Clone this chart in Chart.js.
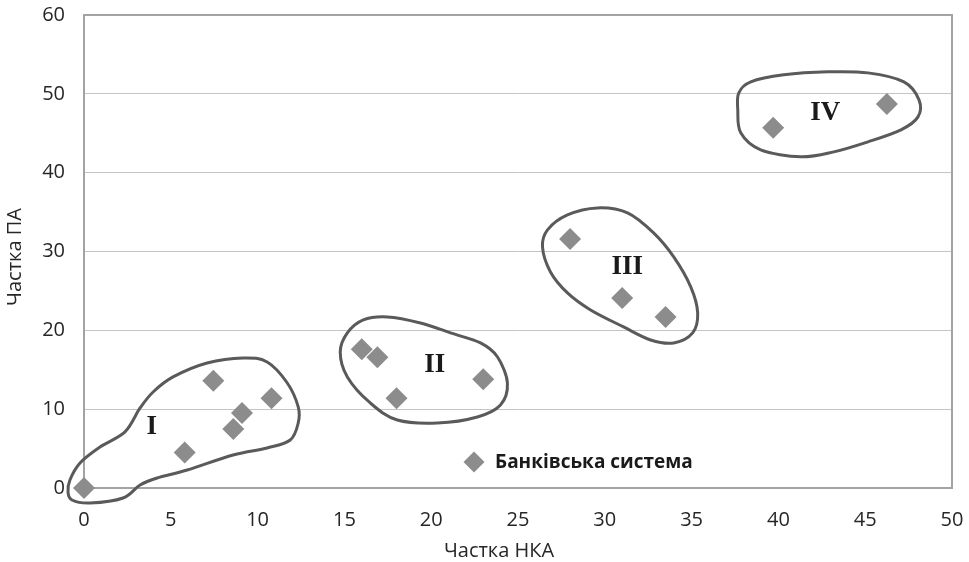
<!DOCTYPE html>
<html>
<head>
<meta charset="utf-8">
<script src="https://cdn.jsdelivr.net/npm/chart.js@4.4.1/dist/chart.umd.min.js"></script>
<style>
  html, body { margin: 0; padding: 0; background: #ffffff; }
  #wrap { width: 969px; height: 562px; position: relative; }
</style>
</head>
<body>
<div id="wrap"><canvas id="chart" width="969" height="562"></canvas></div>
<script>
// Частка НКА (x) та частка ПА (y) для банків
const shareNKA = [0, 5.8, 7.45, 8.6, 9.1, 10.8, 16.0, 16.9, 18.0, 23.0, 28.0, 31.0, 33.5, 39.7, 46.25];
const sharePA  = [0, 4.5, 13.6, 7.5, 9.5, 11.4, 17.6, 16.6, 11.4, 13.8, 31.6, 24.1, 21.7, 45.7, 48.7];

const xTicks = [0, 5, 10, 15, 20, 25, 30, 35, 40, 45, 50];
const yTicks = [0, 10, 20, 30, 40, 50, 60];

const seriesName = 'Банківська система';
const xTitle = 'Частка НКА';
const yTitle = 'Частка ПА';

// Кластери: підписи та їхні центри (у величинах осей)
const clusterNames = ['I', 'II', 'III', 'IV'];
const clusterLabelX = [3.9, 20.2, 31.3, 42.7];
const clusterLabelY = [7.7, 15.6, 28.0, 47.6];

// Контури кластерів (опорні точки замкнених кривих, у величинах осей)
const outlineIx = [-0.92, -0.69, 0.35, 2.25, 3.23, 4.21, 5.94, 8.59, 10.55, 11.88, 12.34, 12.34, 11.71, 10.55, 9.17, 7.09, 5.13, 3.98, 3.23, 2.36, 0.92, -0.23, -0.81];
const outlineIy = [-0.51, -1.52, -1.9, -1.27, 0.38, 1.27, 2.28, 4.19, 5.08, 6.09, 8.25, 10.28, 13.32, 15.99, 16.5, 15.86, 14.09, 12.18, 10.15, 7.11, 5.2, 3.17, 1.02];
const outlineIIx = [14.76, 15.17, 16.49, 18.05, 20.36, 22.66, 23.99, 24.39, 23.82, 22.84, 21.11, 19.38, 17.47, 16.09, 15.17];
const outlineIIy = [17.26, 14.09, 10.79, 8.63, 8.25, 9.01, 10.53, 13.32, 16.62, 18.4, 19.67, 20.94, 21.7, 21.32, 19.67];
const outlineIIIx = [26.41, 26.87, 27.85, 29.18, 31.08, 32.64, 33.97, 35.06, 35.35, 34.95, 33.97, 32.81, 31.31, 29.58, 27.85, 26.7];
const outlineIIIy = [30.58, 27.41, 24.75, 22.59, 20.43, 18.78, 18.4, 19.67, 22.21, 25.51, 29.31, 32.36, 34.9, 35.53, 34.64, 32.74];
const outlineIVx = [37.66, 37.83, 38.98, 41.29, 43.19, 45.16, 47.06, 48.04, 48.1, 47.23, 45.16, 42.85, 40.31, 38.41, 37.72];
const outlineIVy = [47.97, 45.05, 42.89, 42.01, 42.64, 43.91, 45.43, 47.08, 49.24, 51.52, 52.66, 52.79, 52.41, 51.52, 50.13];

const outlines = [
  [outlineIx, outlineIy],
  [outlineIIx, outlineIIy],
  [outlineIIIx, outlineIIIy],
  [outlineIVx, outlineIVy]
];

const points = shareNKA.map((x, i) => ({ x: x, y: sharePA[i] }));

const FONT = '"Open Sans", "Noto Sans", sans-serif';
const TEXT = '#262626';
const MARK = '#8c8c8c';

// Рамка області побудови
const frame = {
  id: 'frame',
  beforeDatasetsDraw(chart) {
    const a = chart.chartArea, ctx = chart.ctx;
    ctx.save();
    ctx.strokeStyle = '#a3a3a3';
    ctx.lineWidth = 2;
    ctx.strokeRect(a.left, a.top, a.right - a.left, a.bottom - a.top);
    ctx.restore();
  }
};

// Замкнена згладжена крива через опорні точки (Catmull-Rom)
function closedCurve(ctx, pts) {
  const n = pts.length;
  ctx.beginPath();
  ctx.moveTo(pts[0][0], pts[0][1]);
  for (let i = 0; i < n; i++) {
    const p0 = pts[(i - 1 + n) % n], p1 = pts[i], p2 = pts[(i + 1) % n], p3 = pts[(i + 2) % n];
    const c1x = p1[0] + (p2[0] - p0[0]) / 6, c1y = p1[1] + (p2[1] - p0[1]) / 6;
    const c2x = p2[0] - (p3[0] - p1[0]) / 6, c2y = p2[1] - (p3[1] - p1[1]) / 6;
    ctx.bezierCurveTo(c1x, c1y, c2x, c2y, p2[0], p2[1]);
  }
  ctx.closePath();
}

const clusters = {
  id: 'clusters',
  afterDraw(chart) {
    const ctx = chart.ctx, xs = chart.scales.x, ys = chart.scales.y;
    ctx.save();
    ctx.strokeStyle = '#5a5a5a';
    ctx.lineWidth = 3;
    ctx.lineJoin = 'round';
    outlines.forEach(([ox, oy]) => {
      const pts = ox.map((v, i) => [xs.getPixelForValue(v), ys.getPixelForValue(oy[i])]);
      closedCurve(ctx, pts);
      ctx.stroke();
    });
    ctx.fillStyle = '#1a1a1a';
    ctx.font = 'bold 27px "Liberation Serif", "DejaVu Serif", serif';
    ctx.textAlign = 'center';
    ctx.textBaseline = 'middle';
    clusterNames.forEach((t, i) => {
      ctx.fillText(t, xs.getPixelForValue(clusterLabelX[i]), ys.getPixelForValue(clusterLabelY[i]));
    });
    ctx.restore();
  }
};

// Легенда всередині області побудови та назви осей
const annotations = {
  id: 'annotations',
  afterDraw(chart) {
    const ctx = chart.ctx;
    ctx.save();
    // легенда
    const lx = 474, ly = 462, r = 10.5;
    ctx.fillStyle = MARK;
    ctx.beginPath();
    ctx.moveTo(lx, ly - r); ctx.lineTo(lx + r, ly); ctx.lineTo(lx, ly + r); ctx.lineTo(lx - r, ly);
    ctx.closePath();
    ctx.fill();
    ctx.fillStyle = '#1a1a1a';
    ctx.font = 'bold 19px ' + FONT;
    ctx.textAlign = 'left';
    ctx.textBaseline = 'middle';
    ctx.fillText(seriesName, 495, ly + 1);
    // назви осей
    ctx.fillStyle = TEXT;
    ctx.font = '20px ' + FONT;
    ctx.textAlign = 'center';
    ctx.fillText(xTitle, 499, 551);
    ctx.translate(15, 257);
    ctx.rotate(-Math.PI / 2);
    ctx.fillText(yTitle, 0, 0);
    ctx.restore();
  }
};

new Chart(document.getElementById('chart'), {
  type: 'scatter',
  data: {
    datasets: [{
      label: seriesName,
      data: points,
      pointStyle: 'rectRot',
      pointRadius: 11,
      pointHoverRadius: 11,
      backgroundColor: MARK,
      borderColor: MARK,
      borderWidth: 0,
      clip: false
    }]
  },
  options: {
    responsive: false,
    animation: false,
    events: [],
    layout: { padding: { top: 15, right: 17, left: 0, bottom: 0 } },
    plugins: {
      legend: { display: false },
      tooltip: { enabled: false }
    },
    scales: {
      x: {
        type: 'linear',
        min: 0, max: 50,
        afterBuildTicks(scale) { scale.ticks = xTicks.map(v => ({ value: v })); },
        afterFit(scale) {
          scale.height = 74;
          scale.paddingLeft = 0;
          scale.paddingRight = 0;
        },
        grid: { display: false, drawTicks: false },
        border: { display: true, color: '#a3a3a3', width: 2 },
        ticks: { color: TEXT, font: { family: FONT, size: 20 }, padding: 20, maxRotation: 0 }
      },
      y: {
        type: 'linear',
        min: 0, max: 60,
        afterBuildTicks(scale) { scale.ticks = yTicks.map(v => ({ value: v })); },
        afterFit(scale) {
          scale.width = 84;
          scale.paddingTop = 0;
          scale.paddingBottom = 0;
        },
        grid: { color: '#c4c4c4', lineWidth: 1, drawTicks: false },
        border: { display: true, color: '#a3a3a3', width: 2 },
        ticks: { color: TEXT, font: { family: FONT, size: 20 }, padding: 19 }
      }
    }
  },
  plugins: [frame, clusters, annotations]
});
</script>
</body>
</html>
